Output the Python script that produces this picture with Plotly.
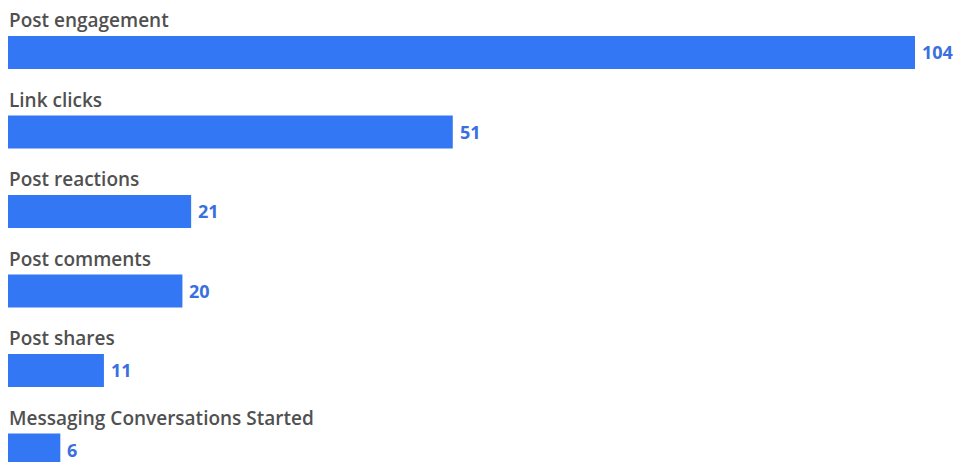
import plotly.graph_objects as go

categories = ["Post engagement", "Link clicks", "Post reactions", "Post comments",
              "Post shares", "Messaging Conversations Started"]
values = [104, 51, 21, 20, 11, 6]

bar_color = "#3377F5"
label_color = "#505050"
value_color = "#3A6FE0"

ypos = list(range(len(categories)))

fig = go.Figure(go.Bar(
    x=values, y=ypos, orientation="h",
    marker=dict(color=bar_color, line=dict(width=0)),
    width=0.415, hoverinfo="skip",
))

for i, (c, v) in enumerate(zip(categories, values)):
    fig.add_annotation(x=0, y=i, text=c, showarrow=False, xanchor="left", yanchor="middle",
                       yshift=32, xshift=-1,
                       font=dict(family="Open Sans", size=19, color=label_color, weight=600))
    fig.add_annotation(x=v, y=i, text=str(v), showarrow=False, xanchor="left", yanchor="middle",
                       xshift=5,
                       font=dict(family="Open Sans", size=18, color=value_color, weight=700))

fig.update_layout(
    width=958, height=462,
    margin=dict(l=8, r=0, t=0, b=0),
    paper_bgcolor="white", plot_bgcolor="white",
    showlegend=False,
    xaxis=dict(range=[0, 108.93], visible=False, fixedrange=True),
    yaxis=dict(range=[5.151, -0.660], visible=False, fixedrange=True),
)

fig.write_html("out.html", config={"displayModeBar": False})
